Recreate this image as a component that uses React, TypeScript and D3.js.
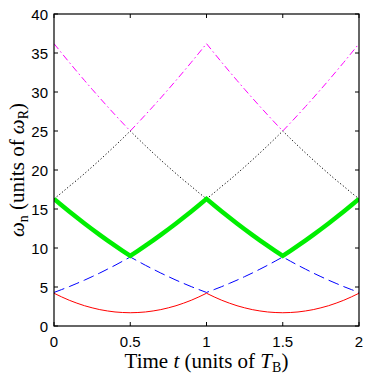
import React from "react";
import * as d3 from "d3";

const times: number[] = d3.range(0, 41).map((i) => i * 0.05);

const redVals = [4.2, 3.73, 3.3, 2.93, 2.6, 2.33, 2.1, 1.93, 1.8, 1.73, 1.7, 1.73, 1.8, 1.93, 2.1, 2.33, 2.6, 2.93, 3.3, 3.73, 4.2, 3.73, 3.3, 2.93, 2.6, 2.33, 2.1, 1.93, 1.8, 1.73, 1.7, 1.73, 1.8, 1.93, 2.1, 2.33, 2.6, 2.93, 3.3, 3.73, 4.2];
const blueVals = [4.3, 4.67, 5.05, 5.46, 5.88, 6.33, 6.79, 7.28, 7.78, 8.31, 8.85, 8.31, 7.78, 7.28, 6.79, 6.33, 5.88, 5.46, 5.05, 4.67, 4.3, 4.67, 5.05, 5.46, 5.88, 6.33, 6.79, 7.28, 7.78, 8.31, 8.85, 8.31, 7.78, 7.28, 6.79, 6.33, 5.88, 5.46, 5.05, 4.67, 4.3];
const greenVals = [16.3, 15.48, 14.68, 13.9, 13.14, 12.4, 11.68, 10.98, 10.3, 9.64, 9.0, 9.64, 10.3, 10.98, 11.68, 12.4, 13.14, 13.9, 14.68, 15.48, 16.3, 15.48, 14.68, 13.9, 13.14, 12.4, 11.68, 10.98, 10.3, 9.64, 9.0, 9.64, 10.3, 10.98, 11.68, 12.4, 13.14, 13.9, 14.68, 15.48, 16.3];
const blackVals = [16.3, 17.08, 17.91, 18.7, 19.54, 20.4, 21.28, 22.18, 23.1, 24.04, 25.0, 24.04, 23.1, 22.18, 21.28, 20.4, 19.54, 18.7, 17.91, 17.08, 16.3, 17.08, 17.91, 18.7, 19.54, 20.4, 21.28, 22.18, 23.1, 24.04, 25.0, 24.04, 23.1, 22.18, 21.28, 20.4, 19.54, 18.7, 17.91, 17.08, 16.3];
const magentaVals = [36.2, 34.99, 33.8, 32.63, 31.48, 30.35, 29.24, 28.15, 27.08, 26.03, 25.0, 26.03, 27.08, 28.15, 29.24, 30.35, 31.48, 32.63, 33.8, 34.99, 36.2, 34.99, 33.8, 32.63, 31.48, 30.35, 29.24, 28.15, 27.08, 26.03, 25.0, 26.03, 27.08, 28.15, 29.24, 30.35, 31.48, 32.63, 33.8, 34.99, 36.2];

const xTicks = [0, 0.5, 1, 1.5, 2];
const xTickLabels = ["0", "0.5", "1", "1.5", "2"];
const yTicks = [0, 5, 10, 15, 20, 25, 30, 35, 40];

const W = 374;
const H = 379;
const L = 54, R = 359, T = 14, B = 326;

export default function App() {
  const x = d3.scaleLinear().domain([0, 2]).range([L, R]);
  const y = d3.scaleLinear().domain([0, 40]).range([B, T]);
  const line = d3
    .line<number>()
    .x((_, i) => x(times[i]))
    .y((d) => y(d))
    .curve(d3.curveLinear);

  const series = [
    { vals: magentaVals, color: "#ff00ff", width: 1, dash: "7,3,1.5,3" },
    { vals: blackVals, color: "#000000", width: 1, dash: "1.2,2.2" },
    { vals: blueVals, color: "#0000ff", width: 1, dash: "11,5" },
    { vals: redVals, color: "#ff0000", width: 1, dash: "none" },
    { vals: greenVals, color: "#00ee00", width: 4.5, dash: "none" },
  ];

  const tickFont = "'Liberation Sans', Arial, Helvetica, sans-serif";
  const serif = "'Liberation Serif', 'Times New Roman', serif";
  const tl = 4;

  return (
    <svg width={W} height={H} style={{ position: "absolute", left: 0, top: 0 }}>
      <rect x={0} y={0} width={W} height={H} fill="#fff" />
      <defs>
        <clipPath id="plotclip">
          <rect x={L} y={T} width={R - L} height={B - T} />
        </clipPath>
      </defs>
      <g clipPath="url(#plotclip)">
        {series.map((s, i) => (
          <path
            key={i}
            d={line(s.vals) || ""}
            fill="none"
            stroke={s.color}
            strokeWidth={s.width}
            strokeDasharray={s.dash}
            strokeLinejoin="miter"
          />
        ))}
      </g>
      {/* frame */}
      <rect x={L} y={T} width={R - L} height={B - T} fill="none" stroke="#000" strokeWidth={1.2} />
      {/* x ticks */}
      {xTicks.map((t, i) => (
        <g key={"xt" + i}>
          <line x1={x(t)} x2={x(t)} y1={B} y2={B - tl} stroke="#000" strokeWidth={1} />
          <line x1={x(t)} x2={x(t)} y1={T} y2={T + tl} stroke="#000" strokeWidth={1} />
          <text x={x(t)} y={347} textAnchor="middle" fontFamily={tickFont} fontSize={15} fill="#000">
            {xTickLabels[i]}
          </text>
        </g>
      ))}
      {yTicks.map((t, i) => (
        <g key={"yt" + i}>
          <line x1={L} x2={L + tl} y1={y(t)} y2={y(t)} stroke="#000" strokeWidth={1} />
          <line x1={R} x2={R - tl} y1={y(t)} y2={y(t)} stroke="#000" strokeWidth={1} />
          <text x={48} y={y(t) + 5.5} textAnchor="end" fontFamily={tickFont} fontSize={15} fill="#000">
            {t}
          </text>
        </g>
      ))}
      {/* x label */}
      <text x={(L + R) / 2} y={368} textAnchor="middle" fontFamily={serif} fontSize={21} fill="#000">
        <tspan>Time </tspan>
        <tspan fontStyle="italic">t</tspan>
        <tspan> (units of </tspan>
        <tspan fontStyle="italic">T</tspan>
        <tspan fontSize={14} dy={4}>B</tspan>
        <tspan dy={-4}>)</tspan>
      </text>
      {/* y label */}
      <text
        transform={`translate(24, ${(T + B) / 2}) rotate(-90)`}
        textAnchor="middle"
        fontFamily={serif}
        fontSize={21}
        fill="#000"
      >
        <tspan fontStyle="italic">ω</tspan>
        <tspan fontSize={14} dy={4}>n</tspan>
        <tspan dy={-4}> (units of </tspan>
        <tspan fontStyle="italic">ω</tspan>
        <tspan fontSize={14} dy={4}>R</tspan>
        <tspan dy={-4}>)</tspan>
      </text>
    </svg>
  );
}
